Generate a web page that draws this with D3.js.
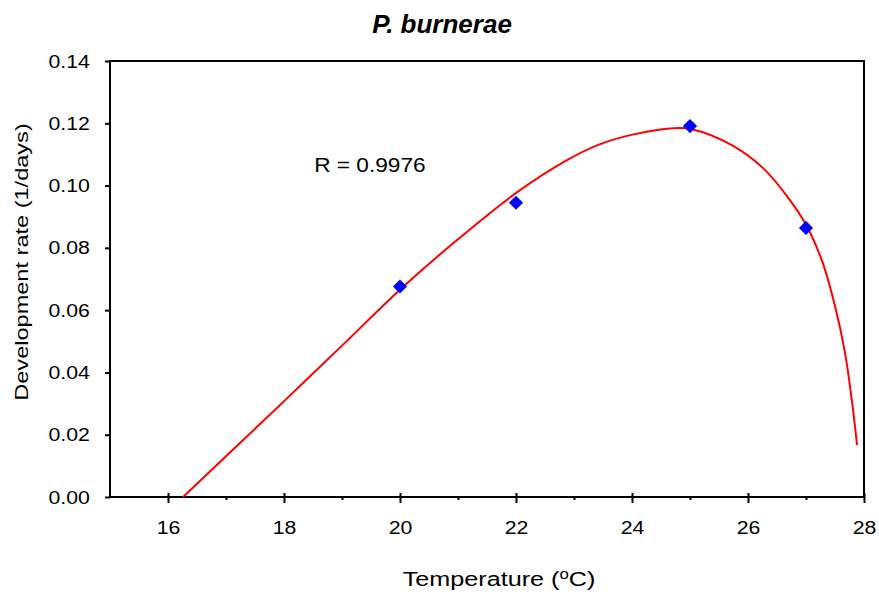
<!DOCTYPE html>
<html>
<head>
<meta charset="utf-8">
<title>P. burnerae</title>
<style type="text/css">
body {margin: 0; background: #fff;}
text {font-family: "Liberation Sans", Arial, sans-serif; fill: #000;}
.axis .domain {display: none;}
.axis line {stroke: #000; stroke-width: 2px;}
</style>
</head>
<body>
<svg width="879" height="594"></svg>
<script src="https://d3js.org/d3.v7.min.js"></script>
<script>
// observed development rates
var tempObs = [20, 22, 25, 27];
var rateObs = [0.0676, 0.0945, 0.1191, 0.0864];

// fitted curve
var curveTemp = [16.26, 17.0, 18.02, 19.0, 20.05, 20.86, 22.02, 22.88, 23.45, 23.97, 24.71, 25.03, 25.72, 26.26, 26.72, 27.03, 27.29, 27.50, 27.67, 27.79, 27.88];
var curveRate = [0, 0.0131, 0.0311, 0.0486, 0.0674, 0.0806, 0.0979, 0.1082, 0.1133, 0.1162, 0.1184, 0.1181, 0.1130, 0.1056, 0.0954, 0.0864, 0.0751, 0.0613, 0.0466, 0.0311, 0.0167];

var xTicks = [16, 18, 20, 22, 24, 26, 28];
var xMinor = [17, 19, 21, 23, 25, 27];
var yTicks = [0, 0.02, 0.04, 0.06, 0.08, 0.10, 0.12, 0.14];

var title = "P. burnerae";
var xTitle = "Temperature (";
var yTitle = "Development rate (1/days)";
var rText = "R = 0.9976";

var svg = d3.select("svg"),
    margin = {top: 61, right: 15, bottom: 97, left: 110},
    width = +svg.attr("width") - margin.left - margin.right,
    height = +svg.attr("height") - margin.top - margin.bottom,
    g = svg.append("g").attr("transform", "translate(" + margin.left + "," + margin.top + ")");

var x = d3.scaleLinear().domain([15, 28]).range([0, width]);
var y = d3.scaleLinear().domain([0, 0.14]).range([height, 0]);

// frame
g.append("rect")
    .attr("width", width)
    .attr("height", height)
    .attr("fill", "none")
    .attr("stroke", "#000")
    .attr("stroke-width", 2);

// x axis
var xAxis = g.append("g")
    .attr("class", "x axis")
    .attr("transform", "translate(0," + height + ")")
    .call(d3.axisBottom(x).tickValues(xTicks).tickSize(6).tickPadding(18).tickFormat(d3.format("d")));
xAxis.selectAll(".tick line").attr("y1", -4);
xAxis.selectAll(".tick text")
    .style("font-size", "19px")
    .attr("transform", "scale(1.12,1)");

g.append("g")
    .attr("class", "x axis minor")
    .attr("transform", "translate(0," + height + ")")
    .call(d3.axisBottom(x).tickValues(xMinor).tickSize(3).tickFormat(""));

// y axis
var yAxis = g.append("g")
    .attr("class", "y axis")
    .call(d3.axisLeft(y).tickValues(yTicks).tickSize(5).tickPadding(13).tickFormat(d3.format(".2f")));
yAxis.selectAll(".tick text")
    .style("font-size", "19px")
    .attr("transform", "scale(1.12,1)");

// fitted curve
var line = d3.line()
    .x(function(d, i) { return x(curveTemp[i]); })
    .y(function(d, i) { return y(curveRate[i]); })
    .curve(d3.curveCatmullRom.alpha(0.5));

g.append("path")
    .datum(curveTemp)
    .attr("fill", "none")
    .attr("stroke", "#ff0000")
    .attr("stroke-width", 2)
    .attr("d", line);

// observations
g.selectAll(".pt")
    .data(tempObs)
    .enter().append("path")
    .attr("class", "pt")
    .attr("d", d3.symbol().type(d3.symbolSquare).size(100))
    .attr("fill", "#0000ff")
    .attr("transform", function(d, i) {
        return "translate(" + x(d) + "," + y(rateObs[i]) + ") rotate(45)";
    });

g.append("text")
    .attr("transform", "translate(" + (x(18.52)) + "," + (y(0.1045)) + ") scale(1.08,1)")
    .style("font-size", "21px")
    .text(rText);

// titles
svg.append("text")
    .attr("x", 442)
    .attr("y", 33)
    .attr("text-anchor", "middle")
    .style("font-size", "26px")
    .style("font-weight", "bold")
    .style("font-style", "italic")
    .text(title);

var xt = svg.append("text")
    .attr("transform", "translate(499,586) scale(1.2,1)")
    .attr("text-anchor", "middle")
    .style("font-size", "21px");
xt.append("tspan").text(xTitle);
xt.append("tspan").attr("dy", -7).style("font-size", "14px").text("o");
xt.append("tspan").attr("dy", 7).text("C)");

svg.append("text")
    .attr("transform", "translate(28,262) rotate(-90) scale(1.24,1)")
    .attr("text-anchor", "middle")
    .style("font-size", "19px")
    .text(yTitle);
</script>
</body>
</html>
